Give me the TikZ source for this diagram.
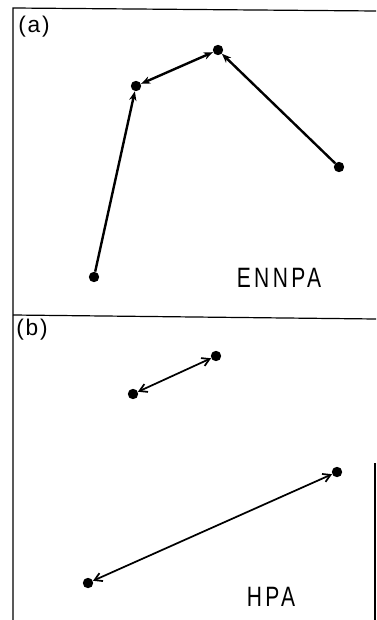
\documentclass[tikz,border=0pt]{standalone}
\usepackage{fontspec}
\setsansfont{Liberation Sans}
\newfontfamily\spacedsans[LetterSpace=12,FakeStretch=0.75]{Liberation Sans}
\newfontfamily\tagsans[LetterSpace=8]{Liberation Sans}
\usetikzlibrary{arrows.meta}
\begin{document}
\begin{tikzpicture}[x=0.75pt,y=-0.75pt,
  dot/.style={circle,fill=black,inner sep=0pt,minimum size=7.8pt},
  linka/.style={line width=1.8pt,-{Stealth[length=7pt,width=5.5pt]}},
  linkaa/.style={line width=1.8pt,{Stealth[length=7pt,width=5.5pt]}-{Stealth[length=7pt,width=5.5pt]}},
  linkb/.style={line width=1.3pt,{Straight Barb[length=5.5pt,width=6.5pt]}-{Straight Barb[length=5.5pt,width=6.5pt]}},
  tag/.style={font=\tagsans\fontsize{17}{17}\selectfont,inner sep=0pt},
  method/.style={font=\spacedsans\fontsize{21}{21}\selectfont,inner sep=0pt}]
\useasboundingbox (0,0) rectangle (376,620);
% frame
\draw[line width=0.9pt] (13,620) -- (13,8) -- (376,11);
\draw[line width=0.9pt] (13,315) -- (376,319);
\draw[line width=0.9pt] (375,463) -- (375,620);
% panel (a)
\node[tag] (taga) at (34,27) {(a)};
\node[dot] (a1) at (94,277) {};
\node[dot] (a2) at (136,86) {};
\node[dot] (a3) at (218,50) {};
\node[dot] (a4) at (339,167) {};
\draw[linka] (a1) -- (a2);
\draw[linkaa] (a2) -- (a3);
\draw[linka] (a4) -- (a3);
\node[method] (enn) at (279,278) {ENNPA};
% panel (b)
\node[tag] (tagb) at (32,330) {(b)};
\node[dot] (b1) at (133,394) {};
\node[dot] (b2) at (216,356) {};
\node[dot] (b3) at (337,472) {};
\node[dot] (b4) at (88,583) {};
\draw[linkb] (b1) -- (b2);
\draw[linkb] (b4) -- (b3);
\node[method] (hpa) at (271,597) {HPA};
\end{tikzpicture}
\end{document}
